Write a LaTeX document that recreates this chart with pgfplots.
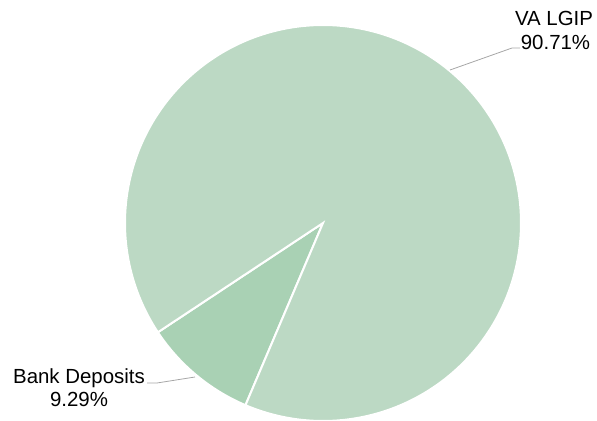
\documentclass[border=0pt]{standalone}
\usepackage{pgfplots}
\pgfplotsset{compat=1.18}
\usepackage{fontspec}
\setmainfont{Liberation Sans}
\definecolor{sliceA}{RGB}{188,217,196}
\definecolor{sliceB}{RGB}{169,209,180}
\definecolor{leader}{RGB}{166,166,166}
\begin{document}
\begin{tikzpicture}
\pgfmathsetmacro{\va}{90.71}
\pgfmathsetmacro{\bd}{9.29}
\pgfmathsetmacro{\startang}{213.5}
\pgfmathsetmacro{\midang}{\startang+\bd*3.6}
\pgfmathsetmacro{\endang}{\startang+360}
\begin{axis}[
  at={(0,0)}, anchor=south west,
  x=1bp, y=1bp, scale only axis,
  xmin=0, xmax=597, ymin=0, ymax=421,
  hide axis, clip=false,
]
% Bank Deposits slice
\addplot[fill=sliceB, draw=white, line width=2bp, domain=\startang:\midang, samples=60, variable=\t]
  ({323+198*cos(\t)},{198+198*sin(\t)}) -- (axis cs:323,198) -- cycle;
% VA LGIP slice
\addplot[fill=sliceA, draw=white, line width=2bp, domain=\midang:\endang, samples=300, variable=\t]
  ({323+198*cos(\t)},{198+198*sin(\t)}) -- (axis cs:323,198) -- cycle;
% leader lines
\addplot[leader, line width=0.8bp] coordinates {(450,351) (512,373) (520,373)};
\addplot[leader, line width=0.8bp] coordinates {(195,44) (157,38) (147,38)};
% labels
\node[anchor=base, font=\fontsize{20.5}{23}\selectfont, inner sep=0pt] at (axis cs:554,395) {VA LGIP};
\node[anchor=base, font=\fontsize{20.5}{23}\selectfont, inner sep=0pt] at (axis cs:555.5,372) {90.71\%};
\node[anchor=base, font=\fontsize{20.5}{23}\selectfont, inner sep=0pt] at (axis cs:79,38) {Bank Deposits};
\node[anchor=base, font=\fontsize{20.5}{23}\selectfont, inner sep=0pt] at (axis cs:79,15) {9.29\%};
\end{axis}
\pgfresetboundingbox
\path (0,0) rectangle (597bp,421bp);
\end{tikzpicture}
\end{document}
